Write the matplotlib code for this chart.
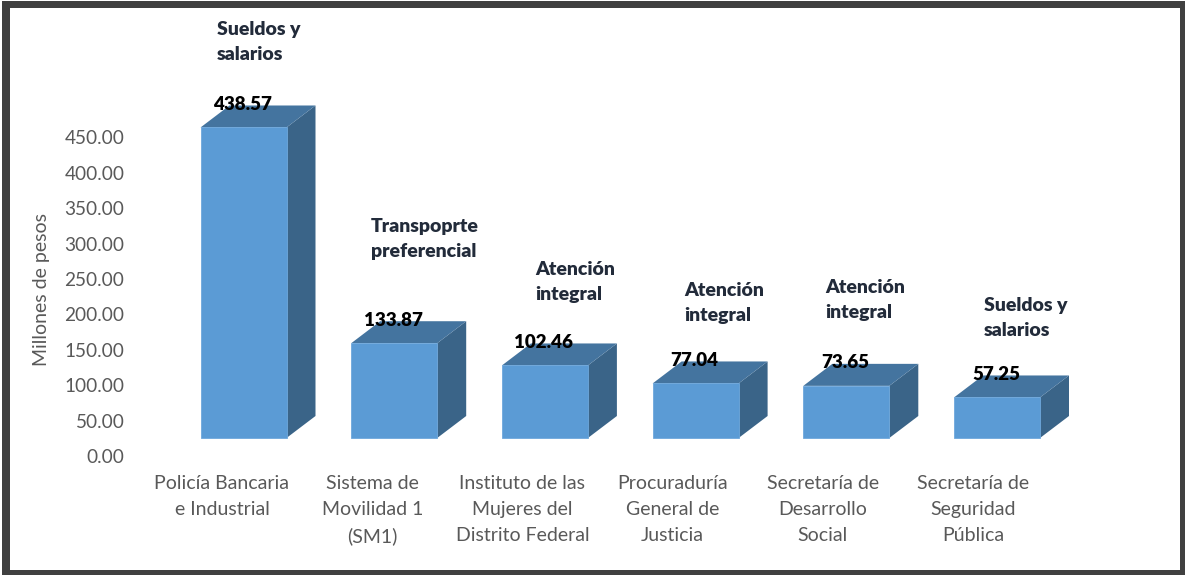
import matplotlib
matplotlib.use("Agg")
import matplotlib.pyplot as plt
from matplotlib.patches import Polygon, Rectangle

plt.rcParams['font.family'] = ['Lato', 'DejaVu Sans']

categories = ["Policía Bancaria\ne Industrial", "Sistema de\nMovilidad 1\n(SM1)",
              "Instituto de las\nMujeres del\nDistrito Federal", "Procuraduría\nGeneral de\nJusticia",
              "Secretaría de\nDesarrollo\nSocial", "Secretaría de\nSeguridad\nPública"]
values = [438.57, 133.87, 102.46, 77.04, 73.65, 57.25]
concepts = ["Sueldos y\nsalarios", "Transpoprte\npreferencial", "Atención\nintegral",
            "Atención\nintegral", "Atención\nintegral", "Sueldos y\nsalarios"]
yticks = [0, 50, 100, 150, 200, 250, 300, 350, 400, 450]

# layout of the picture, in pixels
W, H = 1185, 575
X0, DX = 222, 150.2   # pixel of first category, step between categories
BAR0, BAR_DX = 243.5, 150.7   # bars step a little wider than the labels
Y0, SY = 456, 0.708   # pixel of value 0, pixels per million
concept_px = [(217, 42), (371, 239), (535, 282), (684, 303), (825, 300), (984, 318)]

fig = plt.figure(figsize=(W / 100, H / 100), dpi=100, facecolor="white")
left, right, top = 130, 1180, 8
ax = fig.add_axes([left / W, 1 - Y0 / H, (right - left) / W, (Y0 - top) / H])
ax.set_xlim((left - X0) / DX, (right - X0) / DX)
ax.set_ylim(0, (Y0 - top) / SY)
ax.patch.set_alpha(0)
for s in ax.spines.values():
    s.set_visible(False)

# fake 3d box sizes, in data units
width = 86 / DX
floor = 18 / SY
depth_x = 29 / DX
depth_y = 22 / SY

for i, v in enumerate(values):
    xc = (BAR0 + BAR_DX * i - X0) / DX
    x0 = xc - width / 2
    x1 = x0 + width
    y0 = floor
    y1 = floor + v
    ax.add_patch(Polygon([(x1, y0), (x1 + depth_x, y0 + depth_y), (x1 + depth_x, y1 + depth_y), (x1, y1)],
                         facecolor="#3A6488", edgecolor="none"))
    ax.add_patch(Polygon([(x0, y1), (x1, y1), (x1 + depth_x, y1 + depth_y), (x0 + depth_x, y1 + depth_y)],
                         facecolor="#44749F", edgecolor="none"))
    ax.bar(xc, v, width=width, bottom=floor, color="#5B9BD5", edgecolor="#6FA8DC", linewidth=0.6)
    ax.text(xc - 1 / DX, y1 + 23 / SY, f"{v:.2f}", ha="center", va="center",
            fontsize=13.5, fontweight="heavy", color="black", zorder=5)

for (px, py), txt in zip(concept_px, concepts):
    ax.text((px - X0) / DX, (Y0 - py) / SY, txt, ha="left", va="center", fontsize=14,
            fontweight="heavy", color="#222B3A", linespacing=1.58, zorder=5)

ax.set_yticks(yticks)
ax.set_yticklabels([f"{t:.2f}" for t in yticks], fontsize=13.7, color="#595959")
ax.set_xticks(range(len(categories)))
ax.set_xticklabels(categories, fontsize=14, color="#595959", linespacing=1.62)
ax.tick_params(axis="both", length=0)
ax.tick_params(axis="y", pad=4)
ax.tick_params(axis="x", pad=14)
fig.text(42 / W, 1 - 290 / H, "Millones de pesos", rotation=90, ha="center", va="center",
         fontsize=14, color="#595959")

# dark frame round the white area
frame = "#404040"
for x, y, w, h in [(2, 1, W - 2, 7), (2, 570, W - 2, 5), (2, 1, 8, H - 1), (1180, 1, 5, H - 1)]:
    fig.patches.append(Rectangle((x / W, 1 - (y + h) / H), w / W, h / H, transform=fig.transFigure,
                                 facecolor=frame, edgecolor="none"))

fig.savefig("out.png", dpi=100)
